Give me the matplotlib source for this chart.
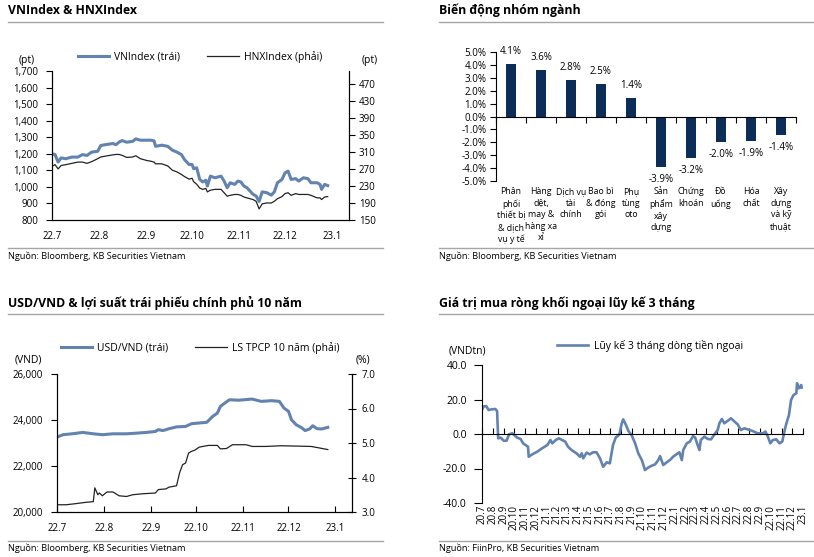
import matplotlib
matplotlib.use("Agg")
import matplotlib.pyplot as plt
import matplotlib.dates as mdates
from matplotlib.lines import Line2D
from matplotlib.ticker import FuncFormatter
import numpy as np
import pandas as pd

plt.rcParams["font.family"] = ["Open Sans", "DejaVu Sans"]

# — DATA —
vn_dates = pd.to_datetime([
    "2022-07-01", "2022-07-03", "2022-07-05", "2022-07-07", "2022-07-10", "2022-07-14",
    "2022-07-18", "2022-07-21", "2022-07-24", "2022-07-27", "2022-07-31", "2022-08-02",
    "2022-08-05", "2022-08-10", "2022-08-12", "2022-08-14", "2022-08-16", "2022-08-19",
    "2022-08-23", "2022-08-25", "2022-08-28", "2022-09-01", "2022-09-04", "2022-09-06",
    "2022-09-07", "2022-09-11", "2022-09-15", "2022-09-18", "2022-09-21", "2022-09-24",
    "2022-09-26", "2022-09-29", "2022-10-01", "2022-10-02", "2022-10-04", "2022-10-06",
    "2022-10-08", "2022-10-10", "2022-10-11", "2022-10-13", "2022-10-16", "2022-10-20",
    "2022-10-22", "2022-10-24", "2022-10-26", "2022-10-29", "2022-10-31", "2022-11-02",
    "2022-11-04", "2022-11-06", "2022-11-08", "2022-11-10", "2022-11-12", "2022-11-14",
    "2022-11-16", "2022-11-19", "2022-11-22", "2022-11-24", "2022-11-26", "2022-11-29",
    "2022-12-01", "2022-12-03", "2022-12-05", "2022-12-08", "2022-12-10", "2022-12-13",
    "2022-12-16", "2022-12-18", "2022-12-22", "2022-12-24", "2022-12-25", "2022-12-27",
    "2022-12-29",
])
vnindex = [
    1200, 1195, 1150, 1175, 1170, 1180, 1180, 1195, 1190, 1210, 1215, 1250,
    1255, 1262, 1255, 1270, 1280, 1270, 1275, 1290, 1282, 1282, 1282, 1278,
    1245, 1252, 1245, 1222, 1210, 1195, 1165, 1135, 1135, 1110, 1115, 1045,
    1030, 1040, 1005, 1065, 1055, 1065, 1035, 995, 1025, 1015, 1035, 1030,
    1005, 995, 975, 955, 945, 912, 970, 965, 950, 970, 1025, 1045,
    1085, 1095, 1045, 1050, 1035, 1055, 1050, 1025, 1025, 1015, 985, 1015,
    1008,
]
hnxindex = [
    276, 280, 270, 278, 280, 283, 286, 286, 283, 287, 294, 298,
    300, 303, 304, 304, 302, 297, 298, 301, 294, 290, 288, 286,
    282, 282, 277, 267, 263, 257, 252, 246, 248, 240, 234, 225,
    222, 224, 216, 220, 222, 222, 214, 206, 208, 210, 210, 208,
    204, 202, 200, 198, 194, 176, 188, 190, 190, 194, 200, 205,
    212, 214, 208, 212, 210, 210, 210, 208, 202, 202, 198, 204,
    205,
]

sectors = [
    "Phân\nphối\nthiết bị\n& dịch\nvụ y tế",
    "Hàng\ndệt,\nmay &\nhàng xa\nxỉ",
    "Dịch vụ\ntài\nchính",
    "Bao bì\n& đóng\ngói",
    "Phụ\ntùng\noto",
    "Sản\nphẩm\nxây\ndựng",
    "Chứng\nkhoán",
    "Đồ\nuống",
    "Hóa\nchất",
    "Xây\ndựng\nvà kỹ\nthuật",
]
sector_change = [4.1, 3.6, 2.8, 2.5, 1.4, -3.9, -3.2, -2.0, -1.9, -1.4]

usd_dates = pd.to_datetime([
    "2022-07-01", "2022-07-05", "2022-07-11", "2022-07-18", "2022-07-25", "2022-07-31",
    "2022-08-07", "2022-08-16", "2022-08-23", "2022-08-29", "2022-09-04", "2022-09-06",
    "2022-09-09", "2022-09-13", "2022-09-18", "2022-09-24", "2022-09-28", "2022-10-03",
    "2022-10-08", "2022-10-12", "2022-10-15", "2022-10-17", "2022-10-20", "2022-10-23",
    "2022-10-29", "2022-11-07", "2022-11-13", "2022-11-20", "2022-11-25", "2022-11-28",
    "2022-12-01", "2022-12-03", "2022-12-06", "2022-12-10", "2022-12-12", "2022-12-15",
    "2022-12-17", "2022-12-20", "2022-12-23", "2022-12-27",
])
usdvnd = [
    23260, 23360, 23400, 23460, 23400, 23360,
    23400, 23400, 23430, 23460, 23500, 23580,
    23540, 23620, 23700, 23720, 23840, 23870,
    23900, 24160, 24300, 24590, 24740, 24880,
    24860, 24910, 24810, 24840, 24810, 24520,
    24380, 24010, 23800, 23650, 23540, 23610,
    23750, 23620, 23610, 23680,
]
yield_dates = pd.to_datetime([
    "2022-07-01", "2022-07-07", "2022-07-13", "2022-07-20", "2022-07-25", "2022-07-26",
    "2022-07-28", "2022-07-29", "2022-07-31", "2022-08-03", "2022-08-07", "2022-08-11",
    "2022-08-16", "2022-08-20", "2022-08-27", "2022-09-04", "2022-09-06", "2022-09-11",
    "2022-09-13", "2022-09-18", "2022-09-20", "2022-09-22", "2022-09-24", "2022-09-26",
    "2022-09-28", "2022-09-30", "2022-10-03", "2022-10-09", "2022-10-15", "2022-10-17",
    "2022-10-21", "2022-10-25", "2022-11-03", "2022-11-07", "2022-11-16", "2022-11-26",
    "2022-12-07", "2022-12-16", "2022-12-21", "2022-12-27",
])
yield10y = [
    3.21, 3.21, 3.24, 3.28, 3.30, 3.70,
    3.50, 3.55, 3.47, 3.58, 3.58, 3.47,
    3.45, 3.50, 3.53, 3.55, 3.65, 3.67,
    3.72, 3.76, 4.13, 4.37, 4.42, 4.71,
    4.76, 4.79, 4.88, 4.93, 4.93, 4.83,
    4.84, 4.95, 4.95, 4.90, 4.90, 4.92,
    4.91, 4.90, 4.86, 4.81,
]

flow_dates = pd.to_datetime([
    "2020-07-01", "2020-07-05", "2020-07-13", "2020-07-20", "2020-07-29", "2020-08-08",
    "2020-08-13", "2020-08-16", "2020-08-23", "2020-09-01", "2020-09-09", "2020-09-16",
    "2020-09-25", "2020-09-29", "2020-10-09", "2020-10-19", "2020-10-26", "2020-11-02",
    "2020-11-09", "2020-11-11", "2020-11-21", "2020-12-05", "2020-12-19", "2021-01-03",
    "2021-01-12", "2021-01-17", "2021-01-27", "2021-02-05", "2021-02-14", "2021-02-23",
    "2021-03-03", "2021-03-13", "2021-03-27", "2021-04-06", "2021-04-11", "2021-04-15",
    "2021-04-25", "2021-05-04", "2021-05-13", "2021-05-23", "2021-06-02", "2021-06-11",
    "2021-06-21", "2021-06-30", "2021-07-09", "2021-07-17", "2021-07-24", "2021-07-28",
    "2021-08-03", "2021-08-07", "2021-08-15", "2021-08-22", "2021-08-31", "2021-09-10",
    "2021-09-19", "2021-09-29", "2021-10-03", "2021-10-08", "2021-10-17", "2021-10-27",
    "2021-11-06", "2021-11-15", "2021-11-20", "2021-11-29", "2021-12-09", "2021-12-18",
    "2021-12-27", "2022-01-07", "2022-01-14", "2022-01-21", "2022-01-25", "2022-02-04",
    "2022-02-13", "2022-02-22", "2022-02-28", "2022-03-07", "2022-03-12", "2022-03-16",
    "2022-03-26", "2022-04-05", "2022-04-14", "2022-04-24", "2022-05-03", "2022-05-08",
    "2022-05-15", "2022-05-22", "2022-06-01", "2022-06-10", "2022-06-20", "2022-06-29",
    "2022-07-08", "2022-07-18", "2022-07-27", "2022-08-11", "2022-08-25", "2022-09-09",
    "2022-09-16", "2022-09-23", "2022-09-30", "2022-10-07", "2022-10-17", "2022-10-26",
    "2022-11-03", "2022-11-10", "2022-11-14", "2022-11-22", "2022-11-28", "2022-12-05",
    "2022-12-13", "2022-12-15", "2022-12-20", "2022-12-27", "2022-12-28",
])
flow = [
    13.9, 15.9, 16.2, 13.9, 14.3, 14.5,
    13.3, -2.5, -2.1, -3.9, -3.9, -0.2,
    0.4, -0.2, -2.1, -2.9, -5.4, -6.4,
    -7.4, -13.2, -11.8, -10.3, -8.3, -6.4,
    -3.5, -5.4, -3.5, -2.5, -3.5, -4.4,
    -7.4, -9.3, -11.2, -13.2, -11.2, -14.1,
    -10.8, -11.8, -10.6, -10.6, -14.1, -19.0,
    -16.4, -17.0, -6.4, -1.9, -1.0, 0.4,
    6.2, 8.5, 5.2, 1.7, -0.6, -5.4,
    -11.2, -15.1, -17.6, -20.9, -19.5, -18.4,
    -17.6, -15.1, -12.8, -18.0, -16.4, -15.1,
    -13.2, -11.6, -10.6, -15.1, -9.3, -5.4,
    -4.4, -1.2, -2.1, -6.4, -9.3, -3.5,
    -1.5, -2.9, -3.1, -0.2, 2.3, 6.2,
    8.7, 6.2, 7.7, 9.1, 7.2, 5.6,
    2.3, 3.3, 2.7, 1.7, 0.4, 0.4,
    1.4, -1.5, -5.4, -3.5, -3.1, -5.4,
    -4.4, 2.3, 5.6, 11.0, 19.7, 22.6,
    23.6, 29.4, 26.5, 28.4, 26.9,
]

# — STYLE —
W, H = 814, 557
BLUE = "#6283b0"
NAVY = "#0b2d57"
RULE = "#a6a6a6"
TICK_FS = 7
LEG_FS = 7.5


def fx(px):
    return px / W


def fy(py):
    return 1 - py / H


def axes_px(fig, left, top, right, bottom):
    return fig.add_axes([fx(left), fy(bottom), (right - left) / W, (bottom - top) / H])


def month_fmt(x, pos=None):
    d = mdates.num2date(x)
    return f"{d.year % 100}.{d.month}"


def header(fig, x0, x1, y_title, y_rule, title, y_src_rule, y_src, source):
    fig.text(fx(x0), fy(y_title), title, fontsize=8.8, fontweight="bold",
             ha="left", va="center")
    fig.add_artist(Line2D([fx(x0), fx(x1)], [fy(y_rule)] * 2, color=RULE, lw=1))
    fig.add_artist(Line2D([fx(x0), fx(x1)], [fy(y_src_rule)] * 2, color=RULE, lw=1))
    fig.text(fx(x0), fy(y_src), source, fontsize=6.6, ha="left", va="center")


fig = plt.figure(figsize=(W / 100, H / 100), dpi=100)

src_bb = "Nguồn: Bloomberg, KB Securities Vietnam"
header(fig, 8, 383, 10, 21.5, "VNIndex & HNXIndex", 248, 256, src_bb)
header(fig, 439, 814, 10, 21.5, "Biến động nhóm ngành", 248, 256, src_bb)
header(fig, 8, 383, 303, 314, "USD/VND & lợi suất trái phiếu chính phủ 10 năm", 541, 548, src_bb)
header(fig, 439, 814, 303, 314, "Giá trị mua ròng khối ngoại lũy kế 3 tháng", 541, 548,
       "Nguồn: FiinPro, KB Securities Vietnam")

# — PANEL 1: VNIndex & HNXIndex —
ax1 = axes_px(fig, 52, 71, 349, 220)
ax1b = ax1.twinx()
l1, = ax1.plot(vn_dates, vnindex, color=BLUE, lw=2.2, label="VNIndex (trái)")
l2, = ax1b.plot(vn_dates, hnxindex, color="#222222", lw=0.9, label="HNXIndex (phải)")
ax1.set_ylim(800, 1700)
ax1.set_yticks(range(800, 1701, 100))
ax1.yaxis.set_major_formatter(FuncFormatter(lambda v, p: f"{v:,.0f}"))
ax1b.set_ylim(150, 500)
ax1b.set_yticks(range(150, 471, 40))
ax1.set_xlim(pd.Timestamp("2022-07-01"), pd.Timestamp("2023-01-12"))
ax1.xaxis.set_major_locator(mdates.MonthLocator())
ax1.xaxis.set_major_formatter(FuncFormatter(month_fmt))
ax1.tick_params(axis="x", length=0, pad=8, labelsize=TICK_FS)
ax1.tick_params(axis="y", direction="out", length=4, pad=6, labelsize=TICK_FS)
ax1b.tick_params(axis="y", direction="out", length=4, pad=3, labelsize=TICK_FS)
for a in (ax1, ax1b):
    a.spines["top"].set_visible(False)
    for s in a.spines.values():
        s.set_linewidth(0.8)
ax1.legend(handles=[l1, l2], loc="center", bbox_to_anchor=(fx(200), fy(57)),
           bbox_transform=fig.transFigure, ncol=2, frameon=False, fontsize=LEG_FS,
           handlelength=3.0, handletextpad=0.5, columnspacing=2.6)
fig.text(fx(27), fy(60), "(pt)", fontsize=7.5, ha="center", va="center")
fig.text(fx(370), fy(60), "(pt)", fontsize=7.5, ha="center", va="center")

# — PANEL 2: sector moves —
ax2 = axes_px(fig, 496, 52, 796, 181)
x = np.arange(len(sectors))
bars = ax2.bar(x, sector_change, width=0.33, color=NAVY)
ax2.bar_label(bars, labels=[f"{v:.1f}%" for v in sector_change], padding=5, fontsize=7)
ax2.set_xlim(-0.5, len(sectors) - 0.5)
ax2.set_ylim(-5, 5)
ax2.set_yticks(np.arange(-5, 5.1, 1))
ax2.yaxis.set_major_formatter(FuncFormatter(lambda v, p: f"{v:.1f}%"))
ax2.spines["top"].set_visible(False)
ax2.spines["right"].set_visible(False)
ax2.spines["bottom"].set_position(("data", 0))
for s in ax2.spines.values():
    s.set_linewidth(0.8)
ax2.set_xticks(np.arange(-0.5, len(sectors), 1))
ax2.set_xticklabels([])
ax2.tick_params(axis="x", direction="out", length=4)
ax2.tick_params(axis="y", direction="out", length=4, pad=3, labelsize=TICK_FS)
for i, name in enumerate(sectors):
    ax2.text(i, -0.05, name, transform=ax2.get_xaxis_transform(),
             ha="center", va="top", fontsize=6.3, linespacing=1.35)

# — PANEL 3: USD/VND & 10y yield —
ax3 = axes_px(fig, 57, 374, 352, 512)
ax3b = ax3.twinx()
l3, = ax3.plot(usd_dates, usdvnd, color=BLUE, lw=2.2, label="USD/VND (trái)")
l4, = ax3b.plot(yield_dates, yield10y, color="#222222", lw=0.9, label="LS TPCP 10 năm (phải)")
ax3.set_ylim(20000, 26000)
ax3.set_yticks(range(20000, 26001, 2000))
ax3.yaxis.set_major_formatter(FuncFormatter(lambda v, p: f"{v:,.0f}"))
ax3b.set_ylim(3, 7)
ax3b.set_yticks(np.arange(3, 7.1, 1))
ax3b.yaxis.set_major_formatter(FuncFormatter(lambda v, p: f"{v:.1f}"))
ax3.set_xlim(pd.Timestamp("2022-07-01"), pd.Timestamp("2023-01-12"))
ax3.xaxis.set_major_locator(mdates.MonthLocator())
ax3.xaxis.set_major_formatter(FuncFormatter(month_fmt))
ax3.tick_params(axis="x", direction="in", length=4, pad=8, labelsize=TICK_FS)
ax3.tick_params(axis="y", direction="out", length=4, pad=6, labelsize=TICK_FS)
ax3b.tick_params(axis="y", direction="inout", length=6, pad=4, labelsize=TICK_FS)
for a in (ax3, ax3b):
    a.spines["top"].set_visible(False)
    for s in a.spines.values():
        s.set_linewidth(0.8)
ax3.legend(handles=[l3, l4], loc="center", bbox_to_anchor=(fx(200), fy(348)),
           bbox_transform=fig.transFigure, ncol=2, frameon=False, fontsize=LEG_FS,
           handlelength=3.0, handletextpad=0.5, columnspacing=2.6)
fig.text(fx(28), fy(360), "(VND)", fontsize=7.5, ha="center", va="center")
fig.text(fx(363), fy(360), "(%)", fontsize=7.5, ha="center", va="center")

# — PANEL 4: foreign net buying —
ax4 = axes_px(fig, 482, 365, 803, 503)
l5, = ax4.plot(flow_dates, flow, color=BLUE, lw=1.9, label="Lũy kế 3 tháng dòng tiền ngoại")
ax4.set_ylim(-40, 40)
ax4.set_yticks(range(-40, 41, 20))
ax4.yaxis.set_major_formatter(FuncFormatter(lambda v, p: f"{v:.1f}"))
months = pd.date_range("2020-07-01", "2023-01-01", freq="MS")
ax4.set_xlim(months[0], months[-1])
ax4.set_xticks(months)
ax4.set_xticklabels([])
ax4.spines["top"].set_visible(False)
ax4.spines["right"].set_visible(False)
ax4.spines["bottom"].set_position(("data", 0))
for s in ax4.spines.values():
    s.set_linewidth(0.8)
ax4.tick_params(axis="x", direction="in", length=4)
ax4.tick_params(axis="y", direction="out", length=6, pad=5, labelsize=7.5)
for m in months:
    ax4.text(m, -0.015, f"{m.year % 100}.{m.month}", transform=ax4.get_xaxis_transform(),
             rotation=90, ha="center", va="top", fontsize=7)
ax4.legend(handles=[l5], loc="center", bbox_to_anchor=(fx(650), fy(346)),
           bbox_transform=fig.transFigure, frameon=False, fontsize=LEG_FS,
           handlelength=3.0, handletextpad=0.5)
fig.text(fx(467), fy(351), "(VNDtn)", fontsize=7.5, ha="center", va="center")

fig.savefig("out.png", dpi=100)
